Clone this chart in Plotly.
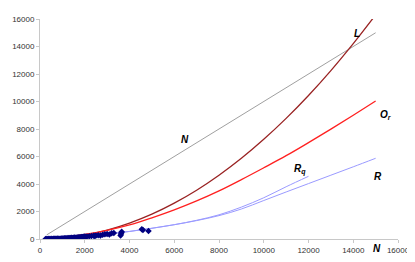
import plotly.graph_objects as go

# ---- data ----
n_line_x = [300, 15000]
n_line_y = [300, 15000]

curve_x = [300, 1000, 2000, 3000, 4000, 5000, 6000, 7000, 8000, 9000,
           10000, 11000, 12000, 13000, 14000, 15000]
L_y = [7, 73, 290, 650, 1160, 1810, 2610, 3550, 4640, 5870,
       7250, 8770, 10440, 12250, 14210, 16300]
Or_y = [20, 110, 330, 630, 1020, 1540, 2120, 2770, 3500, 4320,
        5180, 6060, 7010, 7990, 9000, 10036]

R_x = [300, 1000, 2000, 3000, 4000, 5000, 6000, 7000, 8000, 9000,
       10000, 11000, 12000, 13000, 14000, 15000]
R_y = [10, 70, 200, 360, 550, 780, 1040, 1340, 1700, 2180,
       2800, 3420, 4030, 4640, 5250, 5870]

Rq_x = [300, 1000, 2000, 3000, 4000, 5000, 6000, 7000, 8000, 9000,
        10000, 11000, 12000]
Rq_y = [10, 70, 200, 360, 550, 780, 1040, 1360, 1760, 2320,
        3000, 3800, 4560]

obs_x = [250, 300, 350, 400, 450, 500, 550, 600, 650, 700, 750, 800, 850, 900,
         950, 1000, 1050, 1100, 1150, 1200, 1250, 1300, 1350, 1400, 1450,
         1500, 1550, 1600, 1650, 1700, 1750, 1800, 1850, 1900, 1950, 2000,
         2050, 2100, 2200, 2300, 2400, 2450, 2500, 2600, 2700, 2800, 2900,
         3000, 3100, 3200, 3300, 3600, 3620, 3640, 3650, 4550, 4600, 4850]
obs_y = [0, 5, 0, 10, 5, 12, 8, 15, 10, 20, 18, 30, 25, 22, 35, 45, 40, 50,
         60, 55, 65, 75, 70, 85, 80, 95, 105, 100, 115, 125, 120, 135, 150,
         140, 160, 175, 165, 190, 200, 220, 240, 210, 260, 280, 250, 310,
         340, 370, 330, 410, 440, 260, 360, 460, 530, 710, 660, 580]

x_ticks = [0, 2000, 4000, 6000, 8000, 10000, 12000, 14000, 16000]
y_ticks = [0, 2000, 4000, 6000, 8000, 10000, 12000, 14000, 16000]

labels = ["N", "L", "O<sub>r</sub>", "R<sub>q</sub>", "R"]
label_x = [6500, 14150, 15450, 11600, 15100]
label_y = [7250, 14950, 9050, 5050, 4520]

fig = go.Figure()
fig.add_trace(go.Scatter(x=n_line_x, y=n_line_y, mode="lines",
                         line=dict(color="#a0a0a0", width=1)))
fig.add_trace(go.Scatter(x=curve_x, y=L_y, mode="lines",
                         line=dict(color="#992222", width=1.3, shape="spline")))
fig.add_trace(go.Scatter(x=curve_x, y=Or_y, mode="lines",
                         line=dict(color="#ff2020", width=1.3, shape="spline")))
fig.add_trace(go.Scatter(x=R_x, y=R_y, mode="lines",
                         line=dict(color="#9a9aff", width=1, shape="spline")))
fig.add_trace(go.Scatter(x=Rq_x, y=Rq_y, mode="lines",
                         line=dict(color="#9a9aff", width=1, shape="spline")))
fig.add_trace(go.Scatter(x=obs_x, y=obs_y, mode="markers",
                         marker=dict(symbol="diamond", size=5, color="#000080")))

for t, lx, ly in zip(labels, label_x, label_y):
    fig.add_annotation(x=lx, y=ly, text="<b><i>" + t + "</i></b>",
                       showarrow=False,
                       font=dict(family="Liberation Sans, Arial", size=10,
                                 color="black"))
fig.add_annotation(x=15050, y=0, xref="x", yref="y", yshift=-9,
                   text="<b><i>N</i></b>", showarrow=False,
                   font=dict(family="Liberation Sans, Arial", size=10,
                             color="black"))

axis_common = dict(showgrid=False, zeroline=False, showline=True,
                   linecolor="#c8c8c8", linewidth=1, ticks="outside",
                   ticklen=3, tickcolor="#c8c8c8", automargin=False,
                   tickfont=dict(family="Liberation Sans, Arial", size=8,
                                 color="#333333"))
fig.update_xaxes(range=[0, 16000], tickvals=x_ticks,
                 ticktext=[str(v) for v in x_ticks], **axis_common)
fig.update_yaxes(range=[0, 16000], tickvals=y_ticks,
                 ticktext=[str(v) for v in y_ticks], **axis_common)

# The page places the figure 8 px from the top-left corner of the window,
# so the margins are offset to land the plot area where the reference has it.
fig.update_layout(width=415, height=262, showlegend=False,
                  plot_bgcolor="white", paper_bgcolor="white",
                  margin=dict(l=32, r=25, t=11, b=31))
fig.write_html("out.html")
